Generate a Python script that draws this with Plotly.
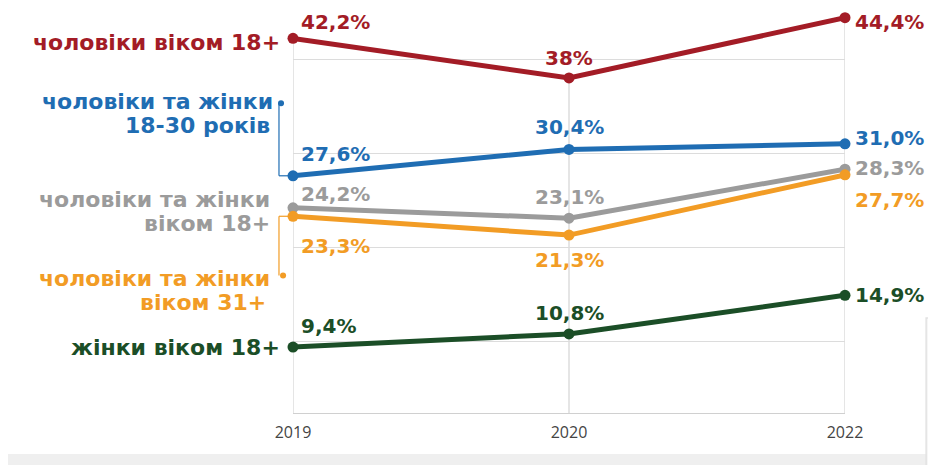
import plotly.graph_objects as go

years = ["2019", "2020", "2022"]
series_names = [
    ["чоловіки віком 18+"],
    ["чоловіки та жінки", "18-30 років"],
    ["чоловіки та жінки", "віком 18+"],
    ["чоловіки та жінки", "віком 31+"],
    ["жінки віком 18+"],
]
men_18 = [42.2, 38.0, 44.4]
all_18_30 = [27.6, 30.4, 31.0]
all_18 = [24.2, 23.1, 28.3]
all_31 = [23.3, 21.3, 27.7]
women_18 = [9.4, 10.8, 14.9]
value_labels = [
    ["42,2%", "38%", "44,4%"],
    ["27,6%", "30,4%", "31,0%"],
    ["24,2%", "23,1%", "28,3%"],
    ["23,3%", "21,3%", "27,7%"],
    ["9,4%", "10,8%", "14,9%"],
]
grid_values = [10, 20, 30, 40]

series = [men_18, all_18_30, all_18, all_31, women_18]
colors = ["#a31c26", "#1f6db3", "#9b9b9b", "#f29c25", "#1b4e27"]

# value-label placement per series per year: (xanchor, xshift px, yshift px)
label_pos = [
    [("left", 6, 16), ("center", 0, 20), ("left", 8, -4)],
    [("left", 6, 22), ("center", 0, 22), ("left", 8, 6)],
    [("left", 6, 14), ("center", 0, 21), ("left", 8, 1)],
    [("left", 6, -30), ("center", 0, -25), ("left", 8, -25)],
    [("left", 6, 21), ("center", 0, 21), ("left", 8, 0)],
]
# series-name line placement relative to first point: per line (xshift px, yshift px)
name_pos = [
    [(-11, -4)],
    [(-18, 74), (-21, 50)],
    [(-21, 8), (-21, -16)],
    [(-21, -62), (-25, -86)],
    [(-11, 0)],
]

FONT = "DejaVu Sans"
fig = go.Figure()
for s, c in zip(series, colors):
    fig.add_trace(go.Scatter(
        x=years, y=s, mode="lines+markers",
        line=dict(color=c, width=5),
        marker=dict(color=c, size=11),
        cliponaxis=False, showlegend=False, hoverinfo="skip",
    ))

annotations = []
for si, (s, c) in enumerate(zip(series, colors)):
    for yi, v in enumerate(s):
        xa, xs, ys = label_pos[si][yi]
        annotations.append(dict(
            x=yi, y=v, text=f"<b>{value_labels[si][yi]}</b>", showarrow=False,
            xanchor=xa, yanchor="middle", xshift=xs, yshift=ys,
            font=dict(family=FONT, size=20, color=c),
        ))
    for line_text, (xs, ys) in zip(series_names[si], name_pos[si]):
        annotations.append(dict(
            x=0, y=s[0], text=f"<b>{line_text}</b>", showarrow=False,
            xanchor="right", yanchor="middle", align="right", xshift=xs, yshift=ys,
            font=dict(family=FONT, size=22, color=c),
        ))

shapes = []
# vertical drop lines from highest point to bottom of plot
for yi, yr in enumerate(years):
    top = max(s[yi] for s in series)
    shapes.append(dict(type="line", xref="x", yref="y", x0=yi, x1=yi, y0=2.4, y1=top,
                       line=dict(color="#d4d4d4", width=1.2), layer="below"))

# connectors for blue and orange labels (paper x, data y)
blue_dot_y = 35.3
orange_dot_y = 17.0
conn_x = -0.0254
rx, ry = 0.0055, 0.32
shapes += [
    dict(type="line", xref="paper", yref="y", x0=conn_x, x1=conn_x, y0=all_18_30[0], y1=blue_dot_y,
         line=dict(color=colors[1], width=1.2)),
    dict(type="line", xref="paper", yref="y", x0=conn_x, x1=0, y0=all_18_30[0], y1=all_18_30[0],
         line=dict(color=colors[1], width=1.2)),
    dict(type="circle", xref="paper", yref="y",
         x0=-0.0217 - rx, x1=-0.0217 + rx, y0=blue_dot_y - ry, y1=blue_dot_y + ry,
         fillcolor=colors[1], line=dict(width=0)),
    dict(type="line", xref="paper", yref="y", x0=conn_x, x1=conn_x, y0=all_31[0], y1=orange_dot_y,
         line=dict(color=colors[3], width=1.2)),
    dict(type="line", xref="paper", yref="y", x0=conn_x, x1=0, y0=all_31[0], y1=all_31[0],
         line=dict(color=colors[3], width=1.2)),
    dict(type="circle", xref="paper", yref="y",
         x0=-0.018 - rx, x1=-0.018 + rx, y0=orange_dot_y - ry, y1=orange_dot_y + ry,
         fillcolor=colors[3], line=dict(width=0)),
    # bottom grey band
    dict(type="rect", xref="paper", yref="paper", x0=-0.52, x1=1.2, y0=-0.102, y1=-0.14,
         fillcolor="#efefef", line=dict(width=0), layer="below"),
    # right-side panel edge
    dict(type="rect", xref="paper", yref="paper", x0=1.147, x1=1.2, y0=0.237, y1=-0.14,
         fillcolor="#f6f6f6", line=dict(color="#e2e2e2", width=1.5), layer="below"),
]

fig.update_layout(
    width=928, height=457,
    margin=dict(l=285, r=91, t=4, b=52),
    paper_bgcolor="white", plot_bgcolor="white",
    font=dict(family=FONT),
    xaxis=dict(type="category", range=[0, 2], showgrid=False, zeroline=False,
               showline=True, linecolor="#d0d0d0", linewidth=1,
               ticks="", tickfont=dict(family="Open Sans", size=16, color="#444444"),
               ticklabelstandoff=5),
    yaxis=dict(range=[2.4, 45], tickvals=grid_values, showticklabels=False,
               showgrid=True, gridcolor="#dcdcdc", gridwidth=1, zeroline=False,
               showline=False),
    annotations=annotations,
    shapes=shapes,
)

fig.write_html("out.html")
